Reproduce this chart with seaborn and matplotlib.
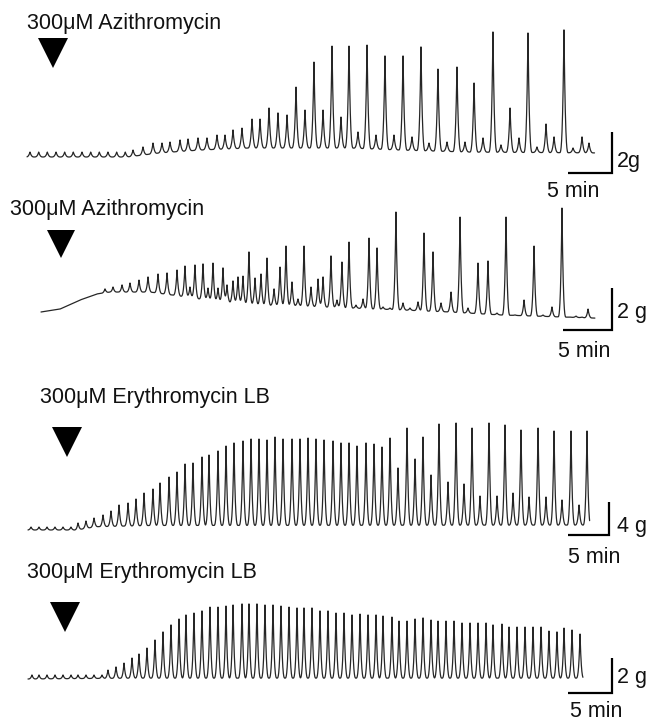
import matplotlib.pyplot as plt
import numpy as np
import pandas as pd
import seaborn as sns

sns.set_style("white")
plt.rcParams["font.family"] = ["Liberation Sans", "DejaVu Sans"]
plt.rcParams["font.size"] = 15.5

W, H = 651, 722

# ---- trace 1: 300uM Azithromycin ----
azi1_peak_min = [0.34, 1.33, 2.31, 3.30, 4.28, 5.26, 6.25, 7.24, 8.22, 9.20, 10.19, 11.17,
                 12.05, 13.18, 14.32, 15.34, 16.25, 17.39, 18.30, 19.43, 20.45, 21.59, 22.50,
                 23.41, 24.43, 25.57, 26.48, 27.50, 28.52, 29.55, 30.57,
                 31.59, 32.61, 33.64, 34.66, 35.68, 36.59, 37.61, 38.64, 39.66, 40.68, 41.70,
                 42.73, 43.75, 44.77, 45.68, 46.70, 47.73, 48.86, 49.77, 50.80, 51.82, 52.95,
                 53.86, 54.89, 55.91, 56.93, 57.95, 58.98, 59.89, 61.02, 62.05, 63.07, 63.86]
azi1_peak_g = [0.24, 0.24, 0.24, 0.24, 0.24, 0.24, 0.24, 0.24, 0.24, 0.24, 0.24, 0.24,
               0.34, 0.49, 0.68, 0.68, 0.73, 0.83, 0.88, 0.93, 0.93, 1.07, 1.07,
               1.32, 1.41, 1.85, 1.85, 2.39, 2.15, 2.05, 3.41,
               2.29, 4.63, 2.29, 5.41, 1.95, 5.41, 1.22, 5.46, 1.07, 4.93, 1.07,
               4.93, 0.98, 5.37, 0.68, 4.29, 0.73, 4.39, 0.73, 3.61, 0.93, 6.10,
               0.59, 2.39, 0.93, 6.05, 0.49, 1.61, 0.98, 6.20, 0.44, 0.98, 0.68]
azi1_base_min = [0, 11.36, 15.1, 19.7, 25.3, 36.7, 42.4, 50.3, 64.5]
azi1_base_g = [0, 0, 0.20, 0.34, 0.44, 0.44, 0.34, 0.24, 0.20]

# ---- trace 2: 300uM Azithromycin ----
azi2_peak_min = [6.53, 7.35, 8.27, 9.08, 10.0, 10.92, 11.94, 12.86, 13.88, 14.69,
                 15.20, 15.71, 16.53, 17.04, 17.55, 18.06, 18.57, 18.98, 19.59, 20.10,
                 20.61, 21.22, 21.84, 22.45, 23.06, 23.78, 24.39, 25.00, 25.61, 26.22,
                 26.84, 27.55, 28.27, 28.78, 29.59, 30.20, 30.71, 31.43, 32.14, 32.86,
                 33.47, 34.29, 34.90, 35.61, 36.22, 36.94, 37.65, 38.47, 39.08, 40.00,
                 40.82, 41.84, 42.76, 43.57, 44.59, 45.61, 46.53, 47.45, 48.37, 49.29,
                 50.31, 51.22, 52.14, 53.16, 53.98, 54.59, 55.20, 55.82]
azi2_peak_g = [1.10, 1.19, 1.29, 1.38, 1.52, 1.67, 1.81, 1.86, 2.00, 2.19,
               1.19, 2.24, 2.29, 1.14, 2.33, 1.14, 2.10, 1.29, 1.48, 1.67,
               1.71, 2.86, 1.62, 1.81, 2.57, 1.10, 2.14, 3.14, 1.43, 0.62,
               3.14, 1.19, 1.57, 1.67, 2.67, 0.57, 2.38, 3.33, 0.33, 0.62,
               3.52, 3.05, 0.24, 0.19, 4.76, 0.43, 0.19, 0.48, 3.76, 2.86,
               0.43, 0.95, 4.52, 0.19, 2.33, 2.43, -0.05, 4.52, -0.14, 0.57,
               3.14, -0.14, 0.24, 4.95, -0.24, -0.19, -0.24, 0.14]
azi2_base_min = [0, 1.94, 3.98, 5.71, 7.04, 11.12, 14.18, 18.27, 22.35, 26.43, 31.53,
                 36.63, 41.73, 46.84, 56.53]
azi2_base_g = [0, 0.14, 0.57, 0.86, 0.95, 0.95, 0.76, 0.48, 0.33, 0.29, 0.19,
               0.10, 0.0, -0.14, -0.29]

# ---- trace 3: 300uM Erythromycin LB ----
ery1_peak_min = [0.37, 1.34, 2.32, 3.29, 4.27, 5.24,
                 6.10, 7.07, 8.05, 9.15, 10.12, 11.10, 12.20, 13.17, 14.15, 15.24,
                 16.10, 17.20, 18.17, 19.15, 20.12, 21.22, 22.07, 23.17, 24.15, 25.12,
                 26.22, 27.20, 28.17, 29.15, 30.12, 31.10, 32.20, 33.17, 34.15, 35.12,
                 36.10, 37.20, 38.17, 39.15, 40.12, 41.22, 42.20, 43.17, 44.15, 45.12,
                 46.22, 47.20, 48.17, 49.15, 50.12, 51.22, 52.20, 53.17, 54.15, 55.12,
                 56.22, 57.20, 58.17, 59.15, 60.12, 61.10, 62.20, 63.17, 64.15, 65.12,
                 66.22, 67.20, 68.17]
ery1_peak_g = [0.36, 0.36, 0.36, 0.36, 0.36, 0.36,
               0.85, 1.09, 1.45, 1.82, 2.30, 3.03, 3.27, 3.76, 4.48, 4.97,
               5.70, 6.42, 7.03, 8.00, 8.12, 8.85, 9.09, 9.58, 10.18, 10.55,
               10.79, 11.03, 11.03, 10.91, 11.27, 11.03, 11.03, 11.03, 11.15, 11.03,
               10.91, 10.79, 10.55, 10.55, 10.18, 10.55, 10.42, 10.06, 11.15, 7.52,
               12.36, 8.61, 11.27, 6.67, 12.85, 5.82, 12.97, 5.58, 12.36, 4.12,
               12.97, 4.12, 12.73, 4.48, 12.12, 4.00, 12.36, 4.00, 12.00, 3.64,
               12.00, 3.03, 12.00]
ery1_base_min = [0, 5.9, 8.3, 15.0, 68.5]
ery1_base_g = [0, 0, 0.40, 0.55, 0.60]

# ---- trace 4: 300uM Erythromycin LB ----
ery2_peak_min = [0.45, 1.25, 2.16, 3.07, 3.98, 4.89, 5.68, 6.59, 7.50, 8.41,
                 9.09, 10.00, 10.91, 11.82, 12.61, 13.52, 14.43, 15.34, 16.25, 17.16,
                 17.95, 18.86, 19.77, 20.68, 21.59, 22.50, 23.30, 24.32, 25.11, 26.02,
                 26.93, 27.84, 28.75, 29.66, 30.57, 31.36, 32.27, 33.18, 34.09, 35.00,
                 35.91, 36.82, 37.73, 38.64, 39.55, 40.34, 41.36, 42.16, 43.07, 43.98,
                 44.89, 45.80, 46.59, 47.50, 48.41, 49.32, 50.23, 51.14, 52.05, 52.84,
                 53.86, 54.66, 55.57, 56.48, 57.39, 58.30, 59.20, 60.11, 60.91, 61.82,
                 62.73]
ery2_peak_g = [0.23, 0.23, 0.23, 0.23, 0.23, 0.23, 0.23, 0.23, 0.23, 0.23,
               0.51, 0.69, 0.91, 1.20, 1.43, 1.77, 2.23, 2.69, 3.09, 3.43,
               3.66, 3.77, 3.89, 4.11, 4.11, 4.17, 4.23, 4.29, 4.29, 4.29,
               4.23, 4.23, 4.17, 4.11, 4.06, 4.06, 4.06, 3.89, 3.89, 3.77,
               3.77, 3.66, 3.71, 3.66, 3.66, 3.60, 3.54, 3.31, 3.31, 3.43,
               3.49, 3.37, 3.31, 3.31, 3.31, 3.20, 3.20, 3.20, 3.20, 3.09,
               3.14, 2.97, 2.97, 2.97, 2.97, 2.97, 2.74, 2.69, 2.91, 2.80,
               2.57]
ery2_base_min = [0, 12.0, 63.07]
ery2_base_g = [0, 0.05, 0.05]

titles = ["300\u03bcM Azithromycin", "300\u03bcM Azithromycin",
          "300\u03bcM Erythromycin LB", "300\u03bcM Erythromycin LB"]
drug_min = [2.95, 2.04, 4.76, 4.15]
scale_g = [2, 2, 4, 2]
scale_text = ["2g", "2 g", "4 g", "2 g"]
end_min = [64.5, 56.53, 68.5, 63.07]

# layout (pixels of the original figure): t=0 x, px per min, f=0 y, px per g
layout = [
    dict(x0=27, ppm=8.8, y0=157, ppg=20.5, title=(27, 29), tri=53, bar=(612, 173),
         lab=(617, 167), minlab=(547, 197), ms=21.6),
    dict(x0=41, ppm=9.8, y0=312, ppg=21.0, title=(10, 215), tri=243.5, bar=(612, 330),
         lab=(617, 318), minlab=(558, 357), ms=20.2),
    dict(x0=28, ppm=8.2, y0=530, ppg=8.25, title=(40, 403), tri=442, bar=(609, 535),
         lab=(617, 532), minlab=(568, 563), ms=21.6),
    dict(x0=28, ppm=8.8, y0=679, ppg=17.5, title=(27, 578), tri=617, bar=(612, 693),
         lab=(617, 683), minlab=(570, 717), ms=22.0),
]

data = [
    (azi1_peak_min, azi1_peak_g, azi1_base_min, azi1_base_g, 0.5),
    (azi2_peak_min, azi2_peak_g, azi2_base_min, azi2_base_g, 0.42),
    (ery1_peak_min, ery1_peak_g, ery1_base_min, ery1_base_g, 0.5),
    (ery2_peak_min, ery2_peak_g, ery2_base_min, ery2_base_g, 0.45),
]


def build_trace(peak_t, peak_g, base_t, base_g, t_end, width):
    t = np.arange(0, t_end, 0.01)
    y = np.interp(t, base_t, base_g)
    for tp, gp in zip(peak_t, peak_g):
        amp = max(gp - np.interp(tp, base_t, base_g), 0)
        y = y + amp * np.clip(1 - np.abs(t - tp) / width, 0, None) ** 3
    return pd.DataFrame({"min": t, "g": y})


fig = plt.figure(figsize=(W / 100, H / 100), dpi=100)
line_col = "#262626"

for i in range(4):
    L = layout[i]
    pk_t, pk_g, b_t, b_g, wid = data[i]
    df = build_trace(pk_t, pk_g, b_t, b_g, end_min[i], wid)

    ax = fig.add_axes([0, 0, 1, 1])
    ax.patch.set_alpha(0)
    sns.lineplot(data=df, x="min", y="g", ax=ax, color=line_col, lw=0.9,
                 estimator=None, sort=False)
    ax.set_xlim(-L["x0"] / L["ppm"], (W - L["x0"]) / L["ppm"])
    ax.set_ylim(-(H - L["y0"]) / L["ppg"], L["y0"] / L["ppg"])
    ax.axis("off")

    # drug addition marker
    tri_g = (L["y0"] - L["tri"]) / L["ppg"]
    ax.plot([drug_min[i]], [tri_g], marker="v", ms=L["ms"], color="black",
            mec="black", mew=0, ls="none")

    # scale bar: 5 min x scale_g
    tb = (L["bar"][0] - L["x0"]) / L["ppm"]
    fb = (L["y0"] - L["bar"][1]) / L["ppg"]
    ax.plot([tb - 5, tb, tb], [fb, fb, fb + scale_g[i]], color="black", lw=1.6,
            solid_joinstyle="miter", solid_capstyle="butt")

    fig.text(L["title"][0] / W, 1 - L["title"][1] / H, titles[i], va="baseline",
             ha="left", color="#111111")
    fig.text(L["lab"][0] / W, 1 - L["lab"][1] / H, scale_text[i], va="baseline",
             ha="left", color="#111111")
    fig.text(L["minlab"][0] / W, 1 - L["minlab"][1] / H, "5 min", va="baseline",
             ha="left", color="#111111")

fig.savefig("out.png", dpi=100, facecolor="white")
